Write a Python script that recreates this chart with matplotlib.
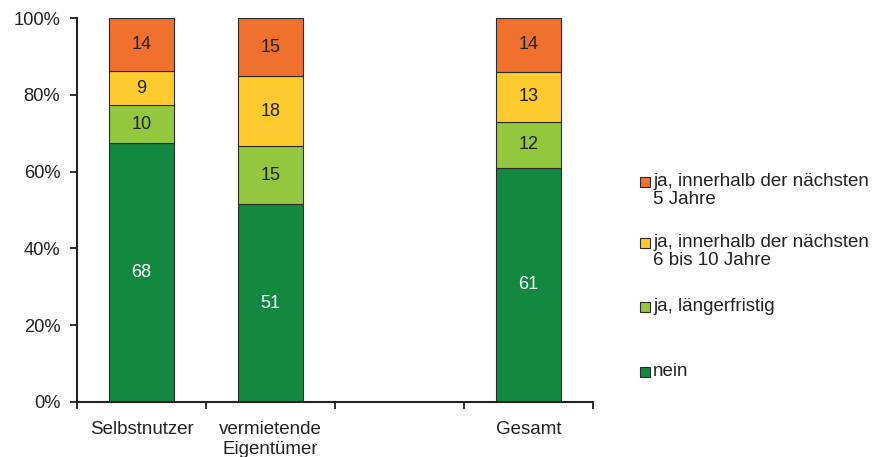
import matplotlib
matplotlib.use("Agg")
import matplotlib.pyplot as plt
from matplotlib.patches import Rectangle
import numpy as np

plt.rcParams['font.family'] = ['Liberation Sans', 'DejaVu Sans']

categories = ["Selbstnutzer", "vermietende\nEigentümer", "", "Gesamt"]
series_names = [
    "nein",
    "ja, längerfristig",
    "ja, innerhalb der nächsten\n6 bis 10 Jahre",
    "ja, innerhalb der nächsten\n5 Jahre",
]
nein = [68, 51, None, 61]
laengerfristig = [10, 15, None, 12]
in_6_10 = [9, 18, None, 13]
in_5 = [14, 15, None, 14]
colors = ["#138841", "#93C83E", "#FECB2F", "#F0702E"]
label_colors = ["white", "#222222", "#222222", "#222222"]
y_ticks = [0, 20, 40, 60, 80, 100]

W, H = 877, 457
fig = plt.figure(figsize=(W / 100, H / 100), dpi=100)
ax = fig.add_axes([77 / W, 1 - 402 / H, (593 - 77) / W, (402 - 18) / H])

series = [nein, laengerfristig, in_6_10, in_5]
x = np.arange(len(categories))
for i in range(len(categories)):
    vals = [s[i] for s in series]
    if any(v is None for v in vals):
        continue
    total = sum(vals)
    bottom = 0.0
    for k, v in enumerate(vals):
        h = v / total * 100
        ax.bar(x[i], h, bottom=bottom, width=0.51, color=colors[k],
               edgecolor="#2a2a2a", linewidth=0.8, zorder=2)
        ax.text(x[i], bottom + h / 2, str(v), ha="center", va="center",
                fontsize=13, color=label_colors[k], zorder=3)
        bottom += h

ax.set_xlim(-0.5, len(categories) - 0.5)
ax.set_ylim(0, 100)
ax.set_yticks(y_ticks)
ax.set_yticklabels([f"{t}%" for t in y_ticks], fontsize=13.2, color="#222222")
ax.set_xticks(np.arange(-0.5, len(categories), 1.0))
ax.set_xticklabels([])
ax.set_xticks(x, minor=True)
ax.set_xticklabels(categories, minor=True, fontsize=13.5, color="#222222",
                   linespacing=1.2)
ax.tick_params(axis="x", which="minor", length=0, pad=14)
ax.tick_params(axis="x", which="major", length=5, width=1.3, color="#222222")
ax.tick_params(axis="y", length=5, width=1.3, color="#222222", pad=7)
for side in ("top", "right"):
    ax.spines[side].set_visible(False)
for side in ("left", "bottom"):
    ax.spines[side].set_linewidth(1.5)
    ax.spines[side].set_color("#222222")

# legend, top entry first
legend_rows = [(182, 3), (243, 2), (307, 1), (372, 0)]
for y_px, k in legend_rows:
    fig.patches.append(Rectangle((640 / W, 1 - (y_px + 5) / H), 10 / W, 10 / H,
                                 transform=fig.transFigure, facecolor=colors[k],
                                 edgecolor="#2a2a2a", linewidth=0.8))
    fig.text(653 / W, 1 - (y_px - 9) / H, series_names[k], ha="left", va="top",
             fontsize=13.5, color="#222222", linespacing=1.1)

fig.savefig("out.png", dpi=100)
